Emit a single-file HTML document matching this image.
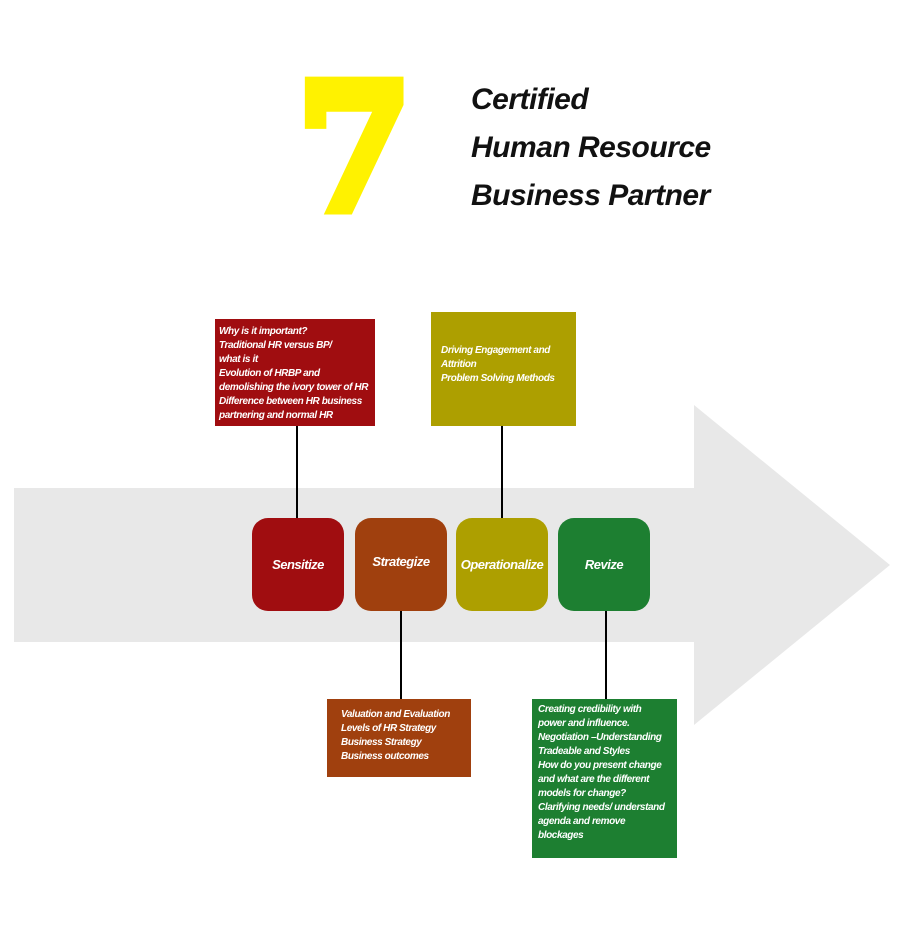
<!DOCTYPE html>
<html><head><style>
body{margin:0;width:900px;height:928px;background:#fff;position:relative;overflow:hidden;font-family:"Liberation Sans",sans-serif}
.a{position:absolute}
.n{position:absolute;width:92px;height:93px;border-radius:16px;color:#fff;font-weight:bold;font-style:italic;font-size:13px;display:flex;align-items:center;justify-content:center;letter-spacing:-0.5px}
.t{position:absolute;color:#fff;font-style:italic;font-weight:bold;font-size:10px;line-height:14px;box-sizing:border-box;letter-spacing:-0.4px}
.l{position:absolute;width:2px;background:#000}
</style></head><body>
<svg class="a" style="left:0;top:0" width="900" height="928">
<polygon points="14,488 694,488 694,405 890,565 694,725 694,642 14,642" fill="#e8e8e8"/>
</svg>
<div class="a" style="left:297px;top:54px;font-family:'DejaVu Serif',serif;font-weight:bold;font-size:174px;line-height:190px;color:#fff200;-webkit-text-stroke:11px #fff200;transform:scaleX(0.95);transform-origin:left top">7</div>
<div class="a" style="left:471px;top:76px;font-size:30px;line-height:48px;font-weight:bold;font-style:italic;color:#111;letter-spacing:-0.5px">Certified<br>Human Resource<br>Business Partner</div>
<div class="l" style="left:296px;top:426px;height:92px"></div>
<div class="l" style="left:501px;top:426px;height:92px"></div>
<div class="l" style="left:400px;top:611px;height:88px"></div>
<div class="l" style="left:605px;top:611px;height:88px"></div>
<div class="t" style="left:215px;top:319px;width:160px;height:107px;background:#a00d10;padding:6px 4px">Why is it important?<br>Traditional HR versus BP/<br>what is it<br>Evolution of HRBP and<br>demolishing the ivory tower of HR<br>Difference between HR business<br>partnering and normal HR</div>
<div class="t" style="left:431px;top:312px;width:145px;height:114px;background:#ad9f00;padding:32px 10px">Driving Engagement and<br>Attrition<br>Problem Solving Methods</div>
<div class="n" style="left:252px;top:518px;background:#a00d10">Sensitize</div>
<div class="n" style="left:355px;top:518px;background:#a0400e;align-items:flex-start;padding-top:36px;height:57px">Strategize</div>
<div class="n" style="left:456px;top:518px;background:#ad9f00">Operationalize</div>
<div class="n" style="left:558px;top:518px;background:#1d7f31">Revize</div>
<div class="t" style="left:327px;top:699px;width:144px;height:78px;background:#a0400e;padding:9px 14px">Valuation and Evaluation<br>Levels of HR Strategy<br>Business Strategy<br>Business outcomes</div>
<div class="t" style="left:532px;top:699px;width:145px;height:159px;background:#1d7f31;padding:4px 6px">Creating credibility with<br>power and influence.<br>Negotiation –Understanding<br>Tradeable and Styles<br>How do you present change<br>and what are the different<br>models for change?<br>Clarifying needs/ understand<br>agenda and remove<br>blockages</div>
</body></html>
